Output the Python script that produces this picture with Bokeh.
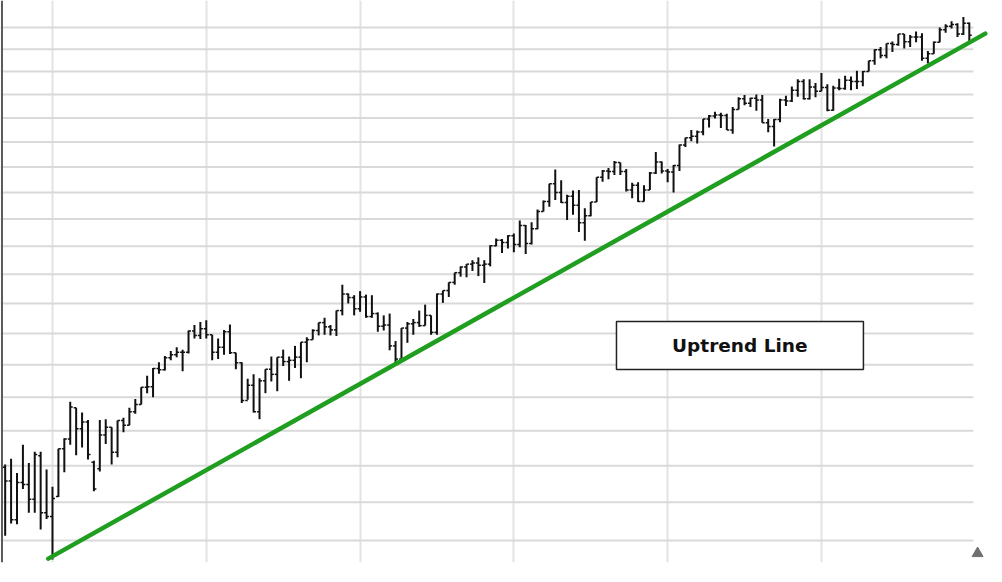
from bokeh.plotting import figure
from bokeh.models import Range1d, FixedTicker, BoxAnnotation, Label, ColumnDataSource, Span
from bokeh.embed import file_html
from bokeh.resources import INLINE

# ---- data (weekly bars, index 0..163) ----
opens = [1198, 1179, 1127, 1177, 1174, 1154, 1214, 1136, 1131, 1158,
         1224, 1238, 1284, 1253, 1263, 1205, 1196, 1244, 1255, 1219,
         1265, 1258, 1278, 1289, 1315, 1316, 1344, 1342, 1361, 1366,
         1370, 1370, 1404, 1397, 1408, 1398, 1370, 1378, 1403, 1369,
         1353, 1295, 1318, 1278, 1325, 1343, 1335, 1362, 1355, 1357,
         1362, 1386, 1390, 1405, 1418, 1411, 1406, 1438, 1466, 1460,
         1441, 1461, 1428, 1433, 1412, 1414, 1380, 1359, 1409, 1416,
         1418, 1413, 1430, 1402, 1466, 1472, 1486, 1503, 1513, 1518,
         1520, 1516, 1518, 1551, 1561, 1557, 1569, 1553, 1588, 1555,
         1582, 1614, 1633, 1667, 1650, 1631, 1643, 1626, 1593, 1606,
         1632, 1680, 1692, 1691, 1709, 1691, 1655, 1664, 1633, 1655,
         1688, 1710, 1692, 1690, 1703, 1744, 1759, 1762, 1771, 1798,
         1804, 1806, 1805, 1775, 1818, 1841, 1831, 1842, 1838, 1790,
         1782, 1797, 1838, 1836, 1859, 1878, 1841, 1866, 1857, 1865,
         1816, 1864, 1863, 1881, 1878, 1878, 1900, 1924, 1949, 1936,
         1963, 1961, 1985, 1967, 1978, 1978, 1930, 1940, 1966, 1995,
         2003, 2007, 1985, 2010]
highs = [1202, 1210, 1190, 1230, 1204, 1220, 1220, 1195, 1171, 1224,
         1239, 1293, 1284, 1277, 1266, 1207, 1266, 1267, 1255, 1265,
         1269, 1284, 1297, 1315, 1333, 1345, 1354, 1364, 1372, 1378,
         1374, 1405, 1414, 1419, 1422, 1398, 1392, 1406, 1415, 1369,
         1354, 1328, 1335, 1329, 1343, 1363, 1362, 1374, 1363, 1380,
         1386, 1394, 1407, 1418, 1426, 1414, 1438, 1482, 1467, 1464,
         1471, 1465, 1464, 1435, 1430, 1433, 1388, 1409, 1419, 1424,
         1438, 1448, 1430, 1467, 1472, 1486, 1503, 1514, 1518, 1525,
         1530, 1525, 1552, 1564, 1563, 1570, 1573, 1597, 1589, 1594,
         1618, 1635, 1667, 1695, 1674, 1646, 1654, 1655, 1620, 1632,
         1680, 1694, 1698, 1712, 1709, 1696, 1669, 1670, 1664, 1690,
         1730, 1711, 1696, 1704, 1745, 1759, 1775, 1774, 1798, 1806,
         1813, 1811, 1809, 1823, 1844, 1849, 1843, 1850, 1849, 1798,
         1798, 1841, 1847, 1867, 1883, 1883, 1883, 1875, 1897, 1872,
         1869, 1884, 1891, 1889, 1902, 1901, 1924, 1950, 1955, 1963,
         1968, 1985, 1985, 1983, 1991, 1987, 1946, 1968, 2000, 2008,
         2015, 2010, 2025, 2012]
lows = [1106, 1122, 1121, 1168, 1136, 1136, 1114, 1128, 1076, 1157,
        1191, 1230, 1215, 1226, 1209, 1165, 1192, 1231, 1202, 1212,
        1248, 1258, 1275, 1289, 1306, 1300, 1336, 1341, 1357, 1362,
        1340, 1368, 1392, 1391, 1392, 1357, 1359, 1366, 1367, 1343,
        1291, 1296, 1277, 1267, 1306, 1324, 1309, 1348, 1325, 1345,
        1329, 1354, 1390, 1397, 1398, 1397, 1396, 1430, 1450, 1430,
        1436, 1426, 1426, 1403, 1405, 1373, 1350, 1359, 1385, 1398,
        1411, 1413, 1398, 1398, 1451, 1461, 1482, 1496, 1495, 1506,
        1497, 1485, 1514, 1550, 1538, 1546, 1539, 1548, 1536, 1553,
        1581, 1614, 1623, 1636, 1630, 1598, 1608, 1576, 1560, 1605,
        1632, 1671, 1676, 1684, 1684, 1652, 1639, 1632, 1633, 1655,
        1686, 1687, 1670, 1650, 1692, 1740, 1752, 1747, 1764, 1780,
        1799, 1779, 1775, 1767, 1818, 1827, 1823, 1815, 1790, 1770,
        1741, 1791, 1825, 1834, 1845, 1839, 1839, 1844, 1857, 1814,
        1815, 1859, 1860, 1859, 1862, 1868, 1900, 1915, 1930, 1930,
        1944, 1958, 1952, 1955, 1966, 1924, 1918, 1940, 1966, 1988,
        1998, 1978, 1983, 1966]
closes = [1179, 1127, 1177, 1174, 1154, 1216, 1136, 1131, 1155, 1224,
          1238, 1285, 1253, 1263, 1216, 1168, 1244, 1255, 1219, 1265,
          1258, 1278, 1289, 1315, 1316, 1344, 1342, 1361, 1366, 1370,
          1370, 1404, 1397, 1408, 1398, 1370, 1378, 1403, 1369, 1353,
          1295, 1318, 1278, 1325, 1343, 1335, 1362, 1355, 1357, 1362,
          1386, 1390, 1405, 1418, 1411, 1406, 1438, 1466, 1460, 1441,
          1461, 1428, 1433, 1412, 1414, 1380, 1359, 1409, 1416, 1418,
          1413, 1430, 1402, 1466, 1472, 1486, 1503, 1513, 1518, 1520,
          1516, 1518, 1551, 1561, 1557, 1569, 1553, 1588, 1555, 1582,
          1614, 1633, 1667, 1650, 1631, 1643, 1626, 1593, 1606, 1632,
          1680, 1692, 1691, 1709, 1691, 1655, 1664, 1633, 1655, 1688,
          1710, 1692, 1690, 1703, 1744, 1759, 1762, 1771, 1798, 1804,
          1806, 1805, 1775, 1818, 1841, 1831, 1842, 1838, 1790, 1782,
          1797, 1838, 1836, 1859, 1878, 1841, 1866, 1857, 1865, 1816,
          1864, 1863, 1881, 1878, 1878, 1900, 1924, 1949, 1936, 1963,
          1961, 1985, 1967, 1978, 1978, 1930, 1940, 1966, 1995, 2003,
          2007, 1985, 2010, 1982]
weeks = list(range(len(closes)))

price_grid = [1100, 1150, 1200, 1250, 1300, 1350, 1400, 1450, 1500, 1550,
              1600, 1650, 1700, 1750, 1800, 1850, 1900, 1950, 2000]
week_grid = [8, 34, 60, 86, 112, 138]

trend_week = [7.3, 165.7]
trend_price = [1077, 1986]

label_text = "Uptrend Line"

# ---- figure ----
X0, X1 = -0.79, 167.26
Y0, Y1 = 1072.1, 2064.1
GRID_END = 163.7

p = figure(width=994, height=574, x_range=Range1d(X0, X1), y_range=Range1d(Y0, Y1),
           y_axis_type="log", output_backend="svg", toolbar_location=None,
           min_border_left=0, min_border_right=0, min_border_top=0, min_border_bottom=12)
p.xaxis.visible = False
p.yaxis.visible = False
p.outline_line_color = None
p.background_fill_color = "white"
p.border_fill_color = "white"

p.xgrid.ticker = FixedTicker(ticks=week_grid)
p.xgrid.grid_line_color = "#e3e3e3"
p.xgrid.grid_line_width = 2
p.ygrid.visible = False

# horizontal grid lines (stop short of the right edge, as in the original)
p.segment(x0=[X0] * len(price_grid), x1=[GRID_END] * len(price_grid),
          y0=price_grid, y1=price_grid, line_color="#d9d9d9", line_width=2)

# left edge line
p.add_layout(Span(location=X0 + 0.25, dimension="height", line_color="#5a5a5a", line_width=2))

src = ColumnDataSource(dict(w=weeks, o=opens, h=highs, l=lows, c=closes,
                            wl=[w - 0.42 for w in weeks], wr=[w + 0.42 for w in weeks]))
p.segment(x0="w", x1="w", y0="l", y1="h", source=src, line_color="#111111", line_width=2)
p.segment(x0="wl", x1="w", y0="o", y1="o", source=src, line_color="#111111", line_width=1.5)
p.segment(x0="w", x1="wr", y0="c", y1="c", source=src, line_color="#111111", line_width=1.5)

p.line(trend_week, trend_price, line_color="#1f9e1f", line_width=4.5, line_cap="round")

p.add_layout(BoxAnnotation(left=103.35, right=145.1, bottom=1342.6, top=1419.8,
                           fill_color="white", fill_alpha=1.0,
                           line_color="#222222", line_alpha=1.0, line_width=1.5,
                           level="annotation"))
p.add_layout(Label(x=124.2, y=1379.9, text=label_text, text_align="center",
                   text_baseline="middle", text_font="DejaVu Sans", text_font_style="bold",
                   text_font_size="18.5px", text_color="#111111"))

p.scatter([164.4], [1083.5], marker="triangle", size=11, fill_color="#6f6f6f",
          line_color="#6f6f6f")

open("out.html", "w").write(file_html(p, INLINE))
